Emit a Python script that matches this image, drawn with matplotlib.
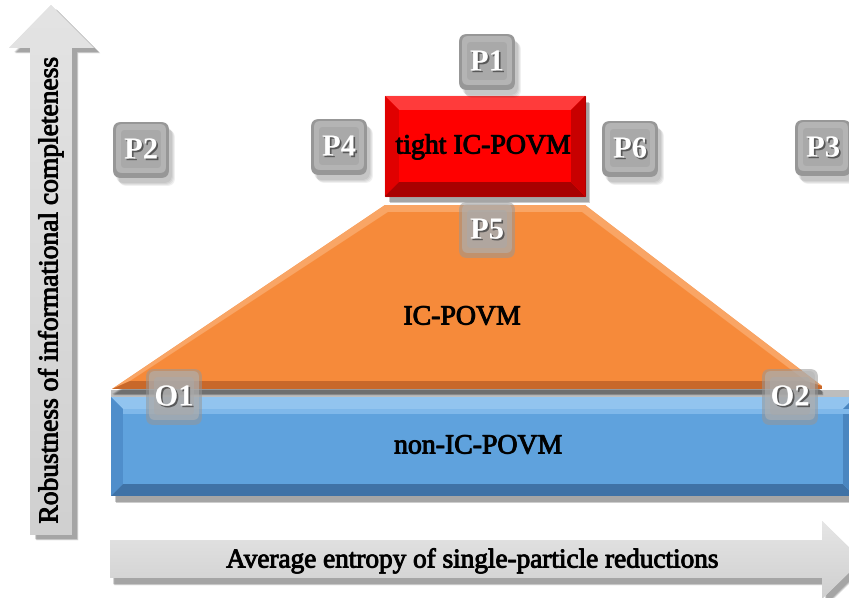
import matplotlib
matplotlib.use("Agg")
import matplotlib.pyplot as plt
import numpy as np
from matplotlib.patches import Polygon, FancyBboxPatch, Rectangle
import matplotlib.patheffects as pe

# ---------------- data ----------------
point_labels = ['P1', 'P2', 'P3', 'P4', 'P5', 'P6', 'O1', 'O2']
point_x = [487, 141, 823, 339, 487, 630, 174, 790]
point_y = [62, 150, 148, 147, 230, 149, 397, 397]
point_alpha = [1.0, 1.0, 1.0, 1.0, 0.55, 1.0, 0.55, 0.55]

region_labels = ['tight IC-POVM', 'IC-POVM', 'non-IC-POVM']
region_label_x = [483, 462, 478]
region_label_y = [147, 318, 447]

xlabel = 'Average entropy of single-particle reductions'
ylabel = 'Robustness of informational completeness'

W, H = 849, 598
fig = plt.figure(figsize=(W / 100, H / 100), dpi=100)
ax = fig.add_axes([0, 0, 1, 1])
ax.set_xlim(0, W)
ax.set_ylim(H, 0)
ax.axis('off')

SERIF = ['Liberation Serif', 'DejaVu Serif']
THICK = [pe.withStroke(linewidth=0.7, foreground='black')]


def shadow(verts, dx=4, dy=6, z=1, steps=4, alpha=0.10):
    for i in range(steps):
        s = i * 1.5
        v = [(x + dx + s * 0.3, y + dy + s * 0.3) for x, y in verts]
        ax.add_patch(Polygon(v, closed=True, fc='black', ec='none', alpha=alpha, zorder=z))


def bevel_rect(x0, y0, x1, y1, base, top, left, bottom, right, b, z, edge=None):
    shadow([(x0, y0), (x1, y0), (x1, y1), (x0, y1)], z=z - 0.5)
    ax.add_patch(Polygon([(x0, y0), (x1, y0), (x1, y1), (x0, y1)], fc=base,
                         ec=edge if edge else 'none', lw=0.8, zorder=z))
    ax.add_patch(Polygon([(x0, y0), (x1, y0), (x1 - b, y0 + b), (x0 + b, y0 + b)], fc=top, ec='none', zorder=z + 0.1))
    ax.add_patch(Polygon([(x0, y0), (x0 + b, y0 + b), (x0 + b, y1 - b), (x0, y1)], fc=left, ec='none', zorder=z + 0.1))
    ax.add_patch(Polygon([(x0, y1), (x0 + b, y1 - b), (x1 - b, y1 - b), (x1, y1)], fc=bottom, ec='none', zorder=z + 0.1))
    ax.add_patch(Polygon([(x1, y0), (x1 - b, y0 + b), (x1 - b, y1 - b), (x1, y1)], fc=right, ec='none', zorder=z + 0.1))


def gradient_patch(patch, c_top, c_bot, y0, y1, x0, x1, z):
    ax.add_patch(patch)
    patch.set_zorder(z)
    grad = np.linspace(0, 1, 256)[:, None]
    ct = np.array(matplotlib.colors.to_rgb(c_top))
    cb = np.array(matplotlib.colors.to_rgb(c_bot))
    img = ct[None, None, :] * (1 - grad[:, :, None]) + cb[None, None, :] * grad[:, :, None]
    im = ax.imshow(img, extent=(x0, x1, y1, y0), aspect='auto', zorder=z + 0.05, interpolation='bilinear')
    im.set_clip_path(patch)


# ---------------- axis arrows ----------------
# vertical arrow
varrow = [(30, 535), (30, 48), (9, 48), (51, 5), (94, 48), (72, 48), (72, 535)]
shadow(varrow, dx=5, dy=4, z=0.5)
p = Polygon(varrow, closed=True, fc='#d9d9d9', ec='none')
gradient_patch(p, '#e4e4e4', '#d0d0d0', 0, 540, 0, 100, 1)
ax.text(51, 290, ylabel, rotation=90, ha='center', va='center', fontsize=19.8,
        family=SERIF, color='black', zorder=5, path_effects=THICK)

# horizontal arrow
harrow = [(110, 540), (822, 540), (822, 521), (862, 560), (822, 599), (822, 578), (110, 578)]
shadow(harrow, dx=3, dy=6, z=0.5)
p = Polygon(harrow, closed=True, fc='#d9d9d9', ec='none')
gradient_patch(p, '#e6e6e6', '#cfcfcf', 520, 600, 100, 870, 1)
ax.text(473, 561, xlabel, ha='center', va='center', fontsize=19.6,
        family=SERIF, color='black', zorder=5, path_effects=THICK)

# ---------------- regions ----------------
# non-IC (blue)
ax.add_patch(Rectangle((111, 390), 740, 8, fc='#bdbdbd', ec='none', zorder=1.8))
bevel_rect(111, 397, 855, 496, '#5fa2dd', '#92c4ef', '#4f8ecb', '#3f72a6', '#4a86c0', 12, 2)
ax.add_patch(Rectangle((123, 409), 730, 5, fc='#7fb8ea', ec='none', zorder=2.2))

# IC (orange trapezoid)
trap = [(112, 389), (385, 205), (585, 205), (822, 386), (822, 389)]
shadow(trap, dx=0, dy=5, z=2.5, alpha=0.12)
ax.add_patch(Polygon(trap, closed=True, fc='#f68a3a', ec='none', zorder=3))
ax.add_patch(Polygon([(112, 389), (385, 205), (585, 205), (822, 386),
                      (806, 381), (582, 212), (388, 212), (130, 381)],
                     closed=True, fc='#f9a565', ec='none', zorder=3.1))
ax.add_patch(Polygon([(112, 389), (822, 389), (822, 386), (806, 381), (130, 381)],
                     closed=True, fc='#c8682a', ec='none', zorder=3.1))

# tight IC (red)
bevel_rect(385, 96, 585, 196, '#ff0000', '#ff3b3b', '#e00000', '#a80000', '#c80000', 14, 4, edge='#b00000')

for lab, x, y in zip(region_labels, region_label_x, region_label_y):
    ax.text(x, y, lab, ha='center', va='center', fontsize=20, family=SERIF,
            color='black', zorder=6, path_effects=THICK)

# ---------------- point buttons ----------------
S = 56
for lab, x, y, a in zip(point_labels, point_x, point_y, point_alpha):
    x0, y0 = x - S / 2, y - S / 2
    if a == 1.0:
        for i in range(4):
            ax.add_patch(FancyBboxPatch((x0 + 3 + i, y0 + 5 + i), S, S, boxstyle='round,pad=0,rounding_size=8',
                                        fc='black', ec='none', alpha=0.06, zorder=6.5))
    ax.add_patch(FancyBboxPatch((x0, y0), S, S, boxstyle='round,pad=0,rounding_size=8',
                                fc='#979797', ec='none', alpha=a, zorder=7))
    ax.add_patch(FancyBboxPatch((x0 + 3, y0 + 2), S - 6, S - 7, boxstyle='round,pad=0,rounding_size=6',
                                fc='#b4b4b4', ec='none', alpha=a, zorder=7.1))
    ax.add_patch(FancyBboxPatch((x0 + 8, y0 + 8), S - 16, S - 18, boxstyle='round,pad=0,rounding_size=4',
                                fc='#a9a9a9', ec='none', alpha=a, zorder=7.2))
    ax.text(x, y + 1, lab, ha='center', va='center', fontsize=22, family=SERIF,
            weight='bold', color='white', zorder=8,
            path_effects=[pe.withSimplePatchShadow(offset=(1.2, -1.2), shadow_rgbFace='#444444', alpha=0.8)])

fig.savefig('out.png', dpi=100)
